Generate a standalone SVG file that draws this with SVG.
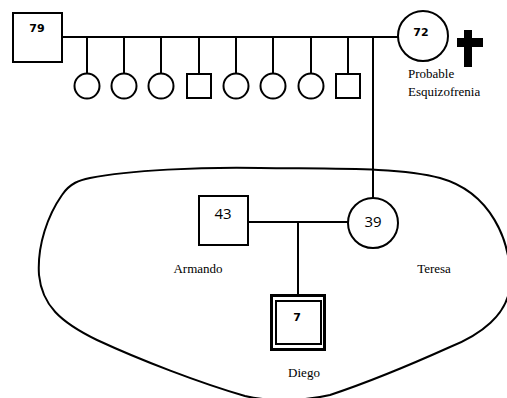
<svg xmlns="http://www.w3.org/2000/svg" width="507" height="398" viewBox="0 0 507 398">
<style>
.s{fill:#fff;stroke:#000;stroke-width:2}
.l{fill:none;stroke:#000;stroke-width:2}
.b{font-family:"DejaVu Sans",sans-serif;font-weight:bold;font-size:11px;text-anchor:middle;fill:#000}
.n{font-family:"Open Sans",sans-serif;font-size:15px;text-anchor:middle;fill:#000}
.t{font-family:"Liberation Serif",serif;font-size:13px;fill:#000}
</style>
<rect width="507" height="398" fill="#fff"/>
<path id="household" class="l" d="M 90,178 C 130,170 200,167 260,168 C 330,169 400,167 440,178 C 490,192 512,240 510,285 C 508,315 480,335 450,347 C 410,365 360,385 330,395 C 300,402 265,401 245,396 C 200,383 140,360 97,340 C 60,322 42,305 39,275 C 37,245 48,215 62,195 C 70,183 80,180 90,178 Z"/>
<g id="connectors" class="l">
<path d="M62,37 H398"/>
<path d="M87,37 V73 M124,37 V73 M161,37 V73 M199,37 V73 M236,37 V73 M273,37 V73 M311,37 V73 M348,37 V73"/>
<path d="M373,37 V198"/>
<path d="M248,222 H348"/>
<path d="M298,222 V294"/>
</g>
<g id="n79"><rect class="s" x="13" y="13" width="49" height="49"/><text class="b" x="37" y="32">79</text></g>
<g id="n72"><circle class="s" cx="423" cy="36" r="25"/><text class="b" x="421" y="36">72</text>
<path d="M464,30 H472 V38 H483 V47 H472 V67 H464 V47 H457 V38 H464 Z" fill="#000"/>
<text class="t" x="408" y="78">Probable</text><text class="t" x="408" y="96">Esquizofrenia</text></g>
<g id="c1"><circle class="s" cx="87" cy="86" r="12.5"/></g>
<g id="c2"><circle class="s" cx="124" cy="86" r="12.5"/></g>
<g id="c3"><circle class="s" cx="161" cy="86" r="12.5"/></g>
<g id="c4"><rect class="s" x="187" y="74" width="24" height="24"/></g>
<g id="c5"><circle class="s" cx="236" cy="86" r="12.5"/></g>
<g id="c6"><circle class="s" cx="273" cy="86" r="12.5"/></g>
<g id="c7"><circle class="s" cx="311" cy="86" r="12.5"/></g>
<g id="c8"><rect class="s" x="336" y="74" width="24" height="24"/></g>
<g id="armando"><rect class="s" x="199" y="196" width="49" height="49"/><text class="n" x="223" y="219">43</text><text class="t" x="198" y="273" text-anchor="middle">Armando</text></g>
<g id="teresa"><circle class="s" cx="373" cy="223" r="25"/><text class="n" x="373" y="227">39</text><text class="t" x="434" y="273" text-anchor="middle">Teresa</text></g>
<g id="diego"><rect x="271.5" y="295.5" width="53" height="54" fill="#fff" stroke="#000" stroke-width="3"/><rect x="276" y="301" width="45" height="43" fill="none" stroke="#000" stroke-width="2"/><text class="b" x="297" y="321" font-size="12">7</text><text class="t" x="304" y="377" text-anchor="middle">Diego</text></g>
</svg>
